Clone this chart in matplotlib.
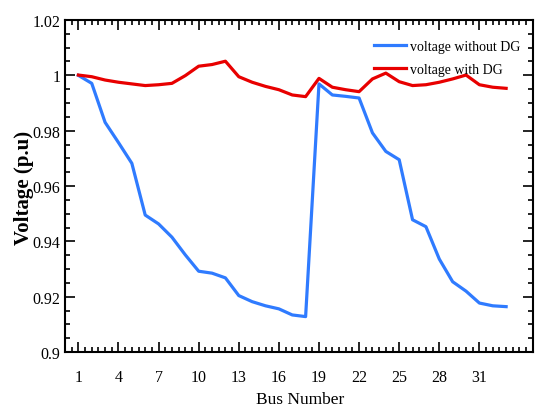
import matplotlib
matplotlib.use("Agg")
import matplotlib.pyplot as plt
from matplotlib.ticker import MultipleLocator, FixedLocator

bus = list(range(1, 34))
v_without_dg = [1.0000, 0.9971, 0.9830, 0.9757, 0.9682, 0.9495, 0.9463, 0.9415,
                0.9351, 0.9292, 0.9285, 0.9268, 0.9204, 0.9182, 0.9167, 0.9156,
                0.9134, 0.9128, 0.9969, 0.9929, 0.9924, 0.9918, 0.9792, 0.9725,
                0.9695, 0.9478, 0.9453, 0.9336, 0.9254, 0.9220, 0.9177, 0.9167,
                0.9164]
v_with_dg = [1.0001, 0.9995, 0.9983, 0.9975, 0.9969, 0.9963, 0.9966, 0.9971,
             0.9999, 1.0033, 1.0039, 1.0051, 0.9995, 0.9975, 0.9960, 0.9948,
             0.9929, 0.9923, 0.9989, 0.9957, 0.9948, 0.9941, 0.9987, 1.0008,
             0.9977, 0.9963, 0.9966, 0.9975, 0.9987, 1.0001, 0.9966, 0.9957,
             0.9953]
x_ticks = [1, 4, 7, 10, 13, 16, 19, 22, 25, 28, 31]
y_ticks = [0.9, 0.92, 0.94, 0.96, 0.98, 1.0, 1.02]
y_tick_labels = ["0.9", "0.92", "0.94", "0.96", "0.98", "1", "1.02"]

plt.rcParams["font.family"] = ["Liberation Serif", "DejaVu Serif"]

fig = plt.figure(figsize=(5.35, 4.14), dpi=100)
ax = fig.add_axes([0.1215, 0.1473, 0.8745, 0.802])

ax.plot(bus, v_without_dg, color="#2f7bff", lw=2.3, label="voltage without DG")
ax.plot(bus, v_with_dg, color="#e80000", lw=2.3, label="voltage with DG")

ax.set_xlim(0, 35)
ax.set_ylim(0.9, 1.02)
ax.xaxis.set_major_locator(FixedLocator(x_ticks))
ax.xaxis.set_minor_locator(FixedLocator([0.5 * i for i in range(0, 71)]))
ax.yaxis.set_major_locator(FixedLocator(y_ticks))
ax.yaxis.set_minor_locator(MultipleLocator(0.005))
ax.set_yticklabels(y_tick_labels)

ax.tick_params(which="both", direction="in", top=True, right=True, width=1.2)
ax.tick_params(which="major", length=7, labelsize=11.5)
ax.tick_params(axis="y", which="major", pad=3.5)
ax.tick_params(axis="x", which="major", pad=12)
ax.tick_params(which="minor", length=3.5)
for s in ax.spines.values():
    s.set_linewidth(1.5)

ax.set_xlabel("Bus Number", fontsize=12.5)
ax.xaxis.set_label_coords(0.503, -0.118)
ax.set_ylabel("Voltage (p.u)", fontsize=15, fontweight="bold")
ax.yaxis.set_label_coords(-0.066, 0.497)

ax.legend(loc="upper right", frameon=False, fontsize=10, handlelength=2.3,
          handletextpad=0.3, labelspacing=0.7, borderaxespad=0.3,
          bbox_to_anchor=(0.995, 0.968))

fig.savefig("out.png", dpi=100)
